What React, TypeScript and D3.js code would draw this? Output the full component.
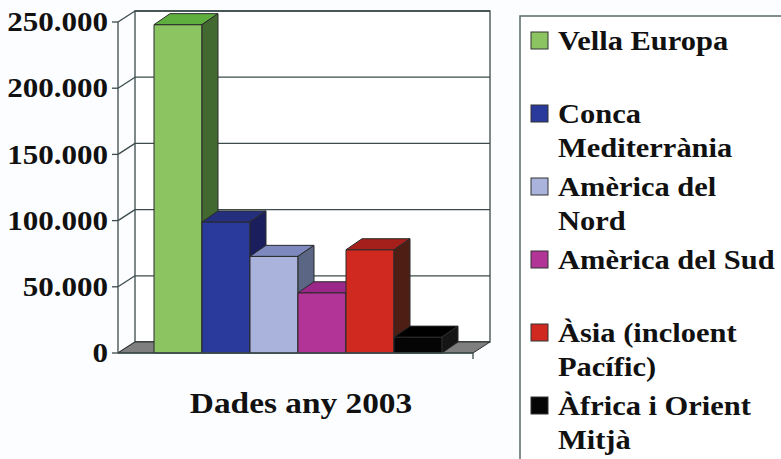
import { useEffect, useRef } from "react"
import * as d3 from "d3"

// Visitors 2003 by region
const regions = [
  "Vella Europa",
  "Conca Mediterrània",
  "Amèrica del Nord",
  "Amèrica del Sud",
  "Àsia (incloent Pacífic)",
  "Àfrica i Orient Mitjà",
]
const values = [248000, 99000, 73000, 45500, 78000, 12000]
const legendLines = [
  ["Vella Europa"],
  ["Conca", "Mediterrània"],
  ["Amèrica del", "Nord"],
  ["Amèrica del Sud"],
  ["Àsia (incloent", "Pacífic)"],
  ["Àfrica i Orient", "Mitjà"],
]
const yTicks = [0, 50000, 100000, 150000, 200000, 250000]
const categoryLabel = "Dades any 2003"

const frontColors = ["#8DC462", "#2A3A9C", "#AAB3DB", "#B23497", "#D0291F", "#050505"]
const topColors = ["#5FAF3F", "#24307E", "#7D89BF", "#9B2888", "#A5201A", "#000000"]
const sideColors = ["#42692F", "#1B1E5C", "#5B6584", "#6E1F62", "#4E1E15", "#151515"]

const W = 781
const H = 459
const FONT = "Liberation Serif, Times New Roman, serif"
const SX = 1.15

export default function App() {
  const svgRef = useRef<SVGSVGElement>(null)

  useEffect(() => {
    if (!svgRef.current) return
    const svg = d3.select(svgRef.current)
    svg.selectAll("*").remove()

    // plot box (front plane) and 3D offsets
    const x0 = 118, x1 = 473
    const dx = 17, dy = 11
    const bdx = 16, bdy = 11
    const gridColor = "#3c4b4b"

    const y = d3.scaleLinear().domain([0, 250000]).range([353, 22])
    const x = d3.scaleBand().domain(regions).range([154, 442]).paddingInner(0).paddingOuter(0)
    const fmt = d3.formatLocale({ decimal: ",", thousands: ".", grouping: [3], currency: ["", "€"] }).format(",")

    const base = y(0)
    const pts = (p: number[][]) => p.map(q => q.join(",")).join(" ")

    // back wall
    svg.append("polygon")
      .attr("points", pts([[x0 + dx, y(250000) - dy], [x1 + dx, y(250000) - dy], [x1 + dx, base - dy], [x0 + dx, base - dy]]))
      .attr("fill", "#fff")
      .attr("stroke", gridColor)
      .attr("stroke-width", 1.3)

    const grid = svg.append("g").attr("stroke", gridColor).attr("stroke-width", 1.3)
    yTicks.forEach(t => {
      grid.append("line")
        .attr("x1", x0 + dx).attr("x2", x1 + dx)
        .attr("y1", y(t) - dy).attr("y2", y(t) - dy)
      grid.append("line")
        .attr("x1", x0).attr("x2", x0 + dx)
        .attr("y1", y(t)).attr("y2", y(t) - dy)
      grid.append("line")
        .attr("x1", x0 - 6).attr("x2", x0)
        .attr("y1", y(t)).attr("y2", y(t))
    })
    grid.append("line").attr("x1", x0).attr("x2", x0).attr("y1", y(250000)).attr("y2", base)

    // floor
    svg.append("polygon")
      .attr("points", pts([[x0, base], [x1, base], [x1 + dx, base - dy], [x0 + dx, base - dy]]))
      .attr("fill", "#7f7f7f")
      .attr("stroke", "#333")
      .attr("stroke-width", 1)

    // bars, left to right so the next front face hides the previous side
    const bars = svg.append("g").attr("stroke", "#2a2a2a").attr("stroke-width", 1).attr("stroke-linejoin", "round")
    regions.forEach((r, i) => {
      const xl = x(r)!
      const xr = xl + x.bandwidth()
      const yt = y(values[i])
      bars.append("rect")
        .attr("x", xl).attr("y", yt)
        .attr("width", x.bandwidth()).attr("height", base - yt)
        .attr("fill", frontColors[i])
      bars.append("polygon")
        .attr("points", pts([[xl, yt], [xl + bdx, yt - bdy], [xr + bdx, yt - bdy], [xr, yt]]))
        .attr("fill", topColors[i])
      bars.append("polygon")
        .attr("points", pts([[xr, yt], [xr + bdx, yt - bdy], [xr + bdx, base - bdy], [xr, base]]))
        .attr("fill", sideColors[i])
    })

    // category axis
    svg.append("line").attr("x1", x0).attr("x2", x1).attr("y1", base).attr("y2", base)
      .attr("stroke", gridColor).attr("stroke-width", 1.3)
    svg.append("line").attr("x1", x1).attr("x2", x1).attr("y1", base).attr("y2", base + 6)
      .attr("stroke", gridColor).attr("stroke-width", 1.3)

    // y labels
    const yl = svg.append("g").attr("font-family", FONT).attr("font-weight", "bold").attr("font-size", 27).attr("fill", "#111")
    yTicks.forEach(t => {
      yl.append("text")
        .attr("transform", `translate(108,${y(t)}) scale(${SX},1)`)
        .attr("text-anchor", "end")
        .attr("dy", "0.34em")
        .text(fmt(t))
    })

    // category label
    svg.append("text")
      .attr("transform", `translate(301,413) scale(${SX},1)`)
      .attr("text-anchor", "middle")
      .attr("font-family", FONT).attr("font-weight", "bold").attr("font-size", 29).attr("fill", "#111")
      .text(categoryLabel)

    // legend (box runs off the page, as in the source)
    const lg = svg.append("g")
    lg.append("rect")
      .attr("x", 520).attr("y", 16).attr("width", 300).attr("height", 500)
      .attr("fill", "#fff").attr("stroke", "#5a6a6a").attr("stroke-width", 1.5)
    const ly = d3.scalePoint().domain(regions).range([50, 415])
    regions.forEach((r, i) => {
      const by = ly(r)!
      lg.append("rect")
        .attr("x", 531).attr("y", by - 18).attr("width", 17).attr("height", 17)
        .attr("fill", frontColors[i]).attr("stroke", "#333").attr("stroke-width", 1)
      legendLines[i].forEach((line, j) => {
        lg.append("text")
          .attr("transform", `translate(558,${by + j * 34}) scale(${SX},1)`)
          .attr("font-family", FONT).attr("font-weight", "bold").attr("font-size", 26.5).attr("fill", "#111")
          .text(line)
      })
    })
  }, [])

  return (
    <svg ref={svgRef} width={W} height={H} style={{ position: "absolute", left: 0, top: 0, background: "#fcfdff" }} />
  )
}
